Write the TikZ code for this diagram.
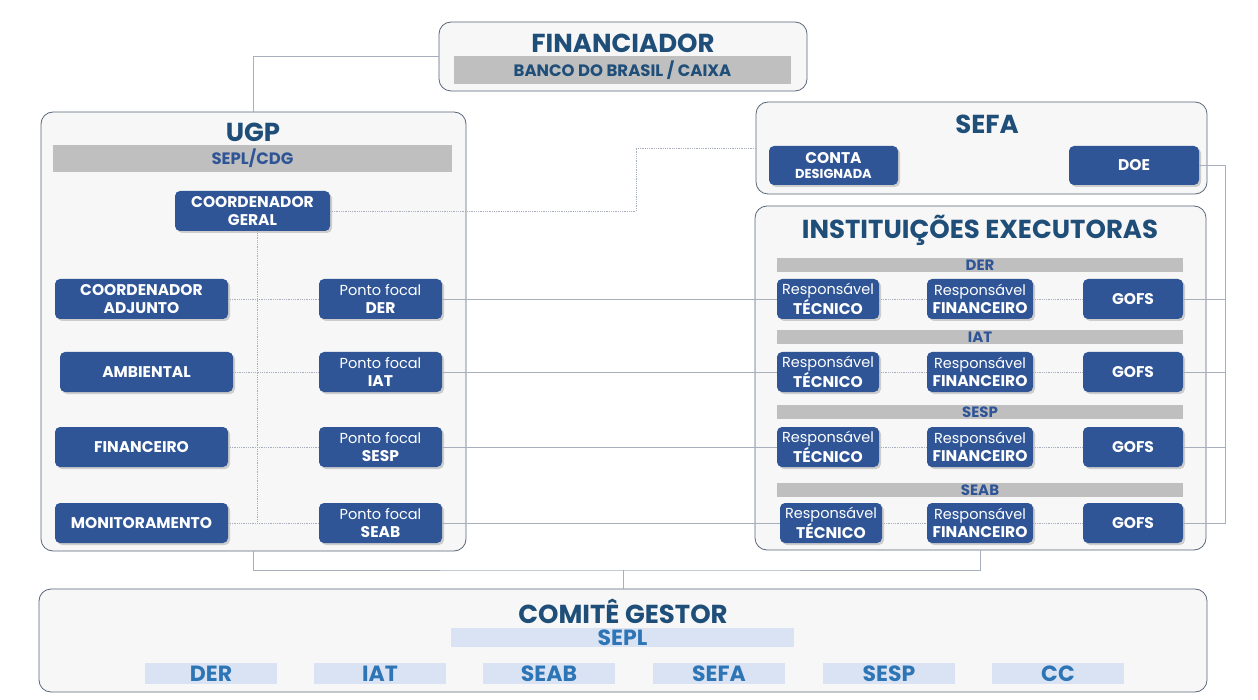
\documentclass[tikz,border=0pt]{standalone}
\usepackage{fontspec}
\setmainfont{Poppins}
\usetikzlibrary{shadows,positioning}
\definecolor{BoxBlue}{RGB}{47,85,151}
\definecolor{TitleBlue}{RGB}{31,78,121}
\definecolor{BarGray}{RGB}{191,191,191}
\definecolor{PanelFill}{RGB}{247,247,247}
\definecolor{PanelLine}{RGB}{88,102,122}
\definecolor{LinkGray}{RGB}{166,175,187}
\definecolor{LightBar}{RGB}{218,227,243}
\definecolor{LightText}{RGB}{46,117,182}
\newcommand{\lite}[1]{{\mdseries\fontsize{14.5}{17}\selectfont #1}}
\tikzset{
  panel/.style={draw=PanelLine, fill=PanelFill, rounded corners=12pt, line width=0.8pt, inner sep=0pt},
  bluebox/.style={fill=BoxBlue, text=white, rounded corners=5pt, align=center, inner sep=0pt,
    minimum height=40pt, font=\bfseries\fontsize{15.5}{17.5}\selectfont,
    drop shadow={shadow xshift=2pt, shadow yshift=-2pt, opacity=0.35}},
  graybar/.style={fill=BarGray, inner sep=0pt, text=BoxBlue, font=\bfseries\fontsize{15}{15}\selectfont},
  lightbar/.style={fill=LightBar, inner sep=0pt, text=LightText, font=\bfseries\fontsize{22}{22}\selectfont},
  title/.style={text=TitleBlue, inner sep=0pt, font=\bfseries\fontsize{26}{28}\selectfont},
  link/.style={draw=LinkGray, line width=0.8pt},
  dotlink/.style={draw=LinkGray, line width=0.8pt, densely dotted}
}
\begin{document}
\begin{tikzpicture}[x=1pt,y=-1pt]
\useasboundingbox (0,0) rectangle (1258,700);
% panels
\node[panel, minimum width=368, minimum height=69] (finpanel) at (623,56.5) {};
\node[panel, minimum width=425, minimum height=439] (ugp) at (253.5,331.5) {};
\node[panel, minimum width=451, minimum height=92] (sefa) at (981.5,148) {};
\node[panel, minimum width=451, minimum height=344] (inst) at (980.5,378) {};
\node[panel, minimum width=1168, minimum height=103] (comite) at (623,640.5) {};

% financiador
\node[title] (fintitle) at (623,43) {FINANCIADOR};
\node[graybar, text=TitleBlue, minimum width=337, minimum height=28, font=\bfseries\fontsize{16.5}{17}\selectfont] (bank) at (622.5,70) {BANCO DO BRASIL / CAIXA};

% UGP
\node[title] (ugptitle) at (253,132) {UGP};
\node[graybar, minimum width=399, minimum height=27, font=\bfseries\fontsize{16.5}{17}\selectfont] (cdg) at (252.5,158.5) {SEPL/CDG};
\node[bluebox, minimum width=155] (cg) at (252.5,211) {COORDENADOR\\GERAL};
\node[bluebox, minimum width=173] (adj) at (141.5,299) {COORDENADOR\\ADJUNTO};
\node[bluebox, minimum width=173] (amb) at (146.5,372) {AMBIENTAL};
\node[bluebox, minimum width=173] (fnc) at (141.5,447) {FINANCEIRO};
\node[bluebox, minimum width=173] (mon) at (141.5,523) {MONITORAMENTO};
\foreach[count=\i] \org/\y in {DER/299, IAT/372, SESP/447, SEAB/523} {
  \node[bluebox, minimum width=123] (p\i) at (380.5,\y) {\lite{Ponto focal}\\\org};
}
\coordinate (ugpbus) at (257,211);
\draw[dotlink] (cg.south -| ugpbus) -- (ugpbus |- mon);
\draw[dotlink] (adj.east) -- (p1.west);
\draw[dotlink] (amb.east) -- (p2.west);
\draw[dotlink] (fnc.east) -- (p3.west);
\draw[dotlink] (mon.east) -- (p4.west);

% SEFA
\node[title] (sefatitle) at (987,124) {SEFA};
\node[bluebox, minimum width=129, minimum height=39] (conta) at (833.5,165.5) {CONTA\\[-3pt]{\fontsize{13}{15}\selectfont DESIGNADA}};
\node[bluebox, minimum width=130, minimum height=39] (doe) at (1134,165.5) {DOE};

% instituicoes executoras
\node[title] (insttitle) at (980,230) {INSTITUIÇÕES EXECUTORAS};
\foreach[count=\i] \org/\yb/\y/\xt in {DER/265.5/299/828, IAT/337.5/372/828, SESP/412/447/828, SEAB/490/523/831} {
  \node[graybar, minimum width=406, minimum height=14] (bar\i) at (980,\yb) {\org};
  \node[bluebox, minimum width=102] (t\i) at (\xt,\y) {\lite{Responsável}\\TÉCNICO};
  \node[bluebox, minimum width=106] (f\i) at (980,\y) {\lite{Responsável}\\FINANCEIRO};
  \node[bluebox, minimum width=100] (g\i) at (1133,\y) {GOFS};
  \draw[dotlink] (t\i.east) -- (f\i.west);
  \draw[dotlink] (f\i.east) -- (g\i.west);
  \draw[link] (p\i.east) -- (t\i.west);
}

% comite gestor
\node[title] (comtitle) at (623,611) {COMITÊ GESTOR};
\node[lightbar, minimum width=343, minimum height=19] (sepl) at (622.5,637.5) {SEPL};
\foreach[count=\i] \org/\x in {DER/211, IAT/380, SEAB/549, SEFA/719, SESP/889, CC/1058} {
  \node[lightbar, minimum width=132, minimum height=21] (cm\i) at (\x,673.5) {\org};
}

% connectors
\coordinate (cgbend) at (636,211);
\coordinate (rbus) at (1225,523);
\coordinate (bbus) at (623,570);
\draw[link] (ugp.north) |- (finpanel.west);
\draw[dotlink] (cg.east) -- (cgbend) |- (sefa.west);
\draw[link] (doe.east) -| (rbus) -- (g4.east);
\foreach \i in {1,2,3} {
  \draw[link] (g\i.east) -- (g\i.east -| rbus);
}
\draw[link] (ugp.south) |- (bbus) -| (inst.south);
\draw[link] (bbus) -- (comite.north);
\end{tikzpicture}
\end{document}
